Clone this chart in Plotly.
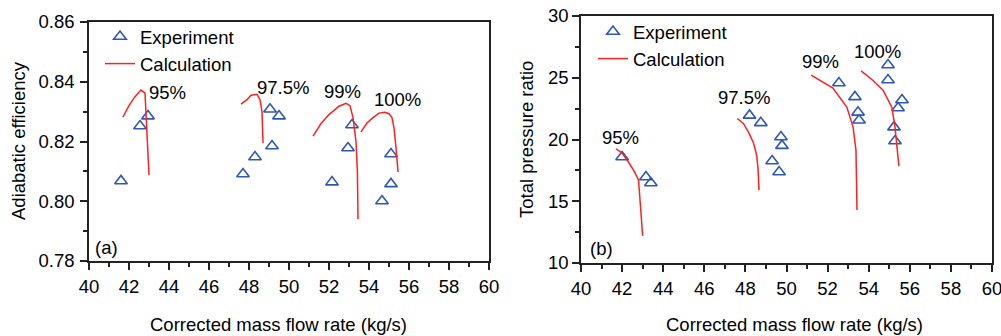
import plotly.graph_objects as go

W, H = 1001, 336

# ---------------- data: panel (a) adiabatic efficiency ----------------
exp_a_95_x = [41.6, 42.55, 42.95]
exp_a_95_y = [0.8068, 0.8252, 0.8285]
exp_a_975_x = [47.7, 48.3, 49.05, 49.5, 49.15]
exp_a_975_y = [0.8091, 0.8148, 0.8308, 0.8285, 0.8185]
exp_a_99_x = [53.15, 52.95, 52.15]
exp_a_99_y = [0.8255, 0.8178, 0.8064]
exp_a_100_x = [55.1, 55.1, 54.65]
exp_a_100_y = [0.8158, 0.8058, 0.8001]

calc_a_95_x = [41.7, 42.0, 42.3, 42.6, 42.8, 42.85, 42.95, 43.0]
calc_a_95_y = [0.8282, 0.832, 0.835, 0.8372, 0.8362, 0.830, 0.815, 0.8088]
calc_a_975_x = [47.6, 47.9, 48.1, 48.4, 48.55, 48.65, 48.7]
calc_a_975_y = [0.8325, 0.834, 0.8355, 0.8358, 0.834, 0.830, 0.8195]
calc_a_99_x = [51.2, 51.6, 52.0, 52.5, 52.85, 53.05, 53.2, 53.35, 53.42, 53.45]
calc_a_99_y = [0.8218, 0.826, 0.829, 0.8318, 0.8328, 0.832, 0.828, 0.820, 0.810, 0.794]
calc_a_100_x = [53.6, 53.9, 54.2, 54.5, 54.8, 55.0, 55.15, 55.25, 55.35, 55.45]
calc_a_100_y = [0.8232, 0.8262, 0.828, 0.8295, 0.8298, 0.8293, 0.828, 0.8245, 0.818, 0.8098]

# ---------------- data: panel (b) total pressure ratio ----------------
exp_b_95_x = [42.0, 43.16, 43.4]
exp_b_95_y = [18.58, 16.96, 16.48]
exp_b_975_x = [48.2, 48.75, 49.73, 49.78, 49.3, 49.64]
exp_b_975_y = [21.95, 21.35, 20.2, 19.5, 18.26, 17.37]
exp_b_99_x = [52.55, 53.33, 53.48, 53.53]
exp_b_99_y = [24.58, 23.45, 22.2, 21.56]
exp_b_100_x = [54.94, 54.94, 55.62, 55.43, 55.23, 55.28]
exp_b_100_y = [26.03, 24.82, 23.2, 22.55, 21.0, 19.88]

calc_b_95_x = [41.7, 42.0, 42.3, 42.6, 42.8, 42.9, 43.0]
calc_b_95_y = [19.25, 18.9, 18.2, 17.4, 16.7, 14.5, 12.2]
calc_b_975_x = [47.6, 47.9, 48.15, 48.4, 48.55, 48.62, 48.66]
calc_b_975_y = [21.7, 21.3, 20.6, 19.7, 18.7, 17.5, 15.9]
calc_b_99_x = [51.2, 52.26, 52.94, 53.24, 53.38, 53.43]
calc_b_99_y = [25.22, 24.17, 22.6, 21.0, 19.15, 14.3]
calc_b_100_x = [53.63, 54.2, 54.7, 55.13, 55.28, 55.38, 55.47]
calc_b_100_y = [25.55, 24.8, 24.0, 22.6, 21.0, 19.15, 17.85]

# speed-line labels
speed_labels = ["95%", "97.5%", "99%", "100%"]
lab_a_x = [43.9, 49.7, 52.65, 55.4]
lab_a_y = [0.8365, 0.838, 0.8369, 0.8342]
lab_b_x = [41.9, 47.93, 51.63, 54.45]
lab_b_y = [20.2, 23.44, 26.28, 27.1]

BLUE = "#2f57b8"
RED = "#ff2020"
FONT = "Liberation Sans, Arial, sans-serif"
FS = 18.5

fig = go.Figure()


def add_panel(exp_sets, calc_sets, xa, ya, legend_name):
    for i, (xs, ys) in enumerate(exp_sets):
        fig.add_trace(go.Scatter(
            x=xs, y=ys, mode="markers", xaxis=xa, yaxis=ya,
            name="Experiment", legend=legend_name, showlegend=(i == 0),
            marker=dict(symbol="triangle-up-open", size=11, color=BLUE,
                        line=dict(width=1.6, color=BLUE))))
    for i, (xs, ys) in enumerate(calc_sets):
        fig.add_trace(go.Scatter(
            x=xs, y=ys, mode="lines", xaxis=xa, yaxis=ya,
            name="Calculation", legend=legend_name, showlegend=(i == 0),
            line=dict(color=RED, width=1.5)))


add_panel([(exp_a_95_x, exp_a_95_y), (exp_a_975_x, exp_a_975_y),
           (exp_a_99_x, exp_a_99_y), (exp_a_100_x, exp_a_100_y)],
          [(calc_a_95_x, calc_a_95_y), (calc_a_975_x, calc_a_975_y),
           (calc_a_99_x, calc_a_99_y), (calc_a_100_x, calc_a_100_y)],
          "x", "y", "legend")
add_panel([(exp_b_95_x, exp_b_95_y), (exp_b_975_x, exp_b_975_y),
           (exp_b_99_x, exp_b_99_y), (exp_b_100_x, exp_b_100_y)],
          [(calc_b_95_x, calc_b_95_y), (calc_b_975_x, calc_b_975_y),
           (calc_b_99_x, calc_b_99_y), (calc_b_100_x, calc_b_100_y)],
          "x2", "y2", "legend2")

axis_common = dict(
    showgrid=False, zeroline=False, showline=True, linecolor="#222222",
    linewidth=1.5, mirror=True, ticks="outside", ticklen=7, tickwidth=1.5,
    tickcolor="#222222", tickfont=dict(family=FONT, size=FS, color="black"),
    automargin=False, ticklabeloverflow="allow",
)
minor_x = dict(ticks="outside", ticklen=4, tickwidth=1.5, tickcolor="#222222", dtick=1)

fig.update_layout(
    template="none",
    width=W, height=H, margin=dict(l=0, r=0, t=0, b=0, autoexpand=False),
    paper_bgcolor="white", plot_bgcolor="white",
    font=dict(family=FONT, size=FS, color="black"),
    xaxis=dict(domain=[89 / W, 489 / W], range=[40, 60], dtick=2,
               minor=minor_x, anchor="y", ticklabelstandoff=1, **axis_common),
    yaxis=dict(domain=[1 - 261 / H, 1 - 22 / H], range=[0.78, 0.86], dtick=0.02,
               tickformat=".2f", anchor="x", ticklabelstandoff=2,
               minor=dict(ticks="outside", ticklen=4, tickwidth=1.5,
                          tickcolor="#222222", dtick=0.01),
               **axis_common),
    xaxis2=dict(domain=[581 / W, 992 / W], range=[40, 60], dtick=2,
                minor=minor_x, anchor="y2", ticklabelstandoff=1, **axis_common),
    yaxis2=dict(domain=[1 - 263 / H, 1 - 16 / H], range=[10, 30], dtick=5,
                anchor="x2", ticklabelstandoff=0,
                minor=dict(ticks="outside", ticklen=4, tickwidth=1.5,
                           tickcolor="#222222", dtick=2.5),
                **axis_common),
    legend=dict(x=100 / W, y=1 - 18 / H, xanchor="left", yanchor="top",
                bgcolor="rgba(0,0,0,0)", font=dict(family=FONT, size=FS),
                tracegroupgap=0),
    legend2=dict(x=593 / W, y=1 - 13 / H, xanchor="left", yanchor="top",
                 bgcolor="rgba(0,0,0,0)", font=dict(family=FONT, size=FS),
                 tracegroupgap=0),
)

txt = dict(family=FONT, size=FS, color="black")
ann = []
for t, x, y in zip(speed_labels, lab_a_x, lab_a_y):
    ann.append(dict(text=t, x=x, y=y, xref="x", yref="y", showarrow=False,
                    xanchor="center", yanchor="middle", font=txt))
for t, x, y in zip(speed_labels, lab_b_x, lab_b_y):
    ann.append(dict(text=t, x=x, y=y, xref="x2", yref="y2", showarrow=False,
                    xanchor="center", yanchor="middle", font=txt))
ann.append(dict(text="(a)", x=40.85, y=0.7844, xref="x", yref="y", showarrow=False,
                xanchor="center", yanchor="middle", font=txt))
ann.append(dict(text="(b)", x=41.0, y=11.2, xref="x2", yref="y2", showarrow=False,
                xanchor="center", yanchor="middle", font=txt))
# axis titles
ann.append(dict(text="Corrected mass flow rate (kg/s)", x=278 / W, y=1 - 324 / H,
                xref="paper", yref="paper", showarrow=False,
                xanchor="center", yanchor="middle", font=txt))
ann.append(dict(text="Corrected mass flow rate (kg/s)", x=794 / W, y=1 - 324 / H,
                xref="paper", yref="paper", showarrow=False,
                xanchor="center", yanchor="middle", font=txt))
ann.append(dict(text="Adiabatic efficiency", x=18 / W, y=1 - 141 / H, textangle=-90,
                xref="paper", yref="paper", showarrow=False,
                xanchor="center", yanchor="middle", font=txt))
ann.append(dict(text="Total pressure ratio", x=526 / W, y=1 - 140 / H, textangle=-90,
                xref="paper", yref="paper", showarrow=False,
                xanchor="center", yanchor="middle", font=txt))
fig.update_layout(annotations=ann)

fig.write_html("out.html")
